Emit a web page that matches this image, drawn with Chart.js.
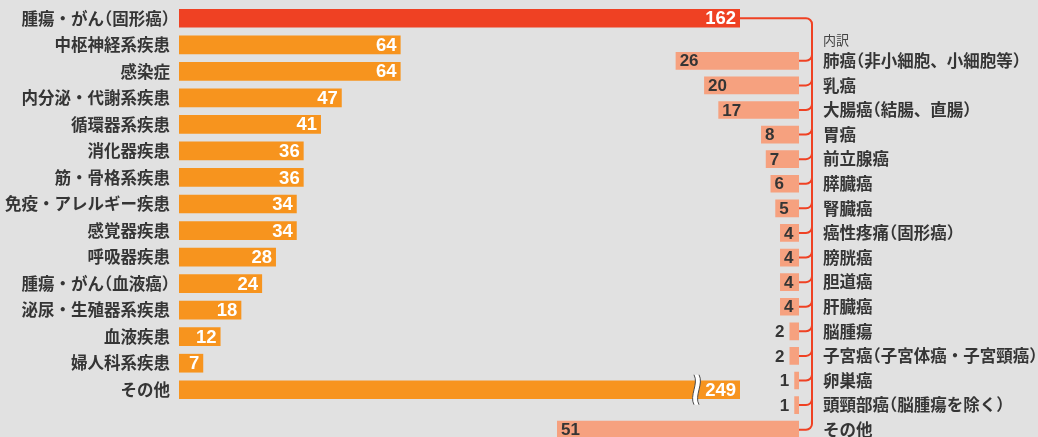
<!DOCTYPE html>
<html lang="ja">
<head>
<meta charset="utf-8">
<title>疾患領域別</title>
<script src="https://cdn.jsdelivr.net/npm/chart.js@4/dist/chart.umd.min.js"></script>
<style>
  html, body {
    margin: 0;
    width: 1038px;
    height: 437px;
    overflow: hidden;
    background: #e1e1e1;
  }
  .board {
    position: relative;
    width: 1038px;
    height: 437px;
  }
  .board canvas {
    position: absolute;
    left: 0;
    top: 0;
  }
</style>
</head>
<body>
<div class="board">
  <canvas id="areas" width="1038" height="437"></canvas>
  <canvas id="tumors" width="1038" height="460"></canvas>
</div>
<script>
const areaLabels = [
  '腫瘍・がん（固形癌）',
  '中枢神経系疾患',
  '感染症',
  '内分泌・代謝系疾患',
  '循環器系疾患',
  '消化器疾患',
  '筋・骨格系疾患',
  '免疫・アレルギー疾患',
  '感覚器疾患',
  '呼吸器疾患',
  '腫瘍・がん（血液癌）',
  '泌尿・生殖器系疾患',
  '血液疾患',
  '婦人科系疾患',
  'その他',
];
const areaValues = [162, 64, 64, 47, 41, 36, 36, 34, 34, 28, 24, 18, 12, 7, 249];
// the last bar is drawn with a break mark
const brokenIndex = 14;

const tumorLabels = [
  '肺癌（非小細胞、小細胞等）',
  '乳癌',
  '大腸癌（結腸、直腸）',
  '胃癌',
  '前立腺癌',
  '膵臓癌',
  '腎臓癌',
  '癌性疼痛（固形癌）',
  '膀胱癌',
  '胆道癌',
  '肝臓癌',
  '脳腫瘍',
  '子宮癌（子宮体癌・子宮頸癌）',
  '卵巣癌',
  '頭頸部癌（脳腫瘍を除く）',
  'その他',
];
const tumorValues = [26, 20, 17, 8, 7, 6, 5, 4, 4, 4, 4, 2, 2, 1, 1, 51];
const breakdownTitle = '内訳';

const RED = '#ef4123';
const ORANGE = '#f7941e';
const SALMON = '#f6a17f';
const TEXT = '#353535';
const JP_FONT = "'Noto Sans CJK JP', 'Noto Sans', sans-serif";
const NUM_FONT = "'Liberation Sans', Arial, sans-serif";
const LABEL_SIZE = 16.5;

const areaMax = Math.max(...areaValues.filter((v, i) => i !== brokenIndex));

// fixed-width label column, no extra room for half label heights
function fitColumn(width) {
  return (scale) => {
    scale.width = width;
    scale.paddingTop = 0;
    scale.paddingBottom = 0;
  };
}

// category text with half-width brackets (like palt)
function drawLabel(ctx, text, x, y, align) {
  const half = LABEL_SIZE / 2;
  const chars = [...text];
  const advance = (ch) => (ch === '（' || ch === '）' ? half : ctx.measureText(ch).width);
  const total = chars.reduce((sum, ch) => sum + advance(ch), 0);
  let cx = align === 'right' ? x - total : x;
  chars.forEach((ch) => {
    ctx.fillText(ch, ch === '（' ? cx - half : cx, y);
    cx += advance(ch);
  });
}

const categoryPlugin = {
  id: 'categoryText',
  afterDraw(chart, args, opts) {
    const { ctx, chartArea } = chart;
    const scale = chart.scales.y;
    ctx.save();
    ctx.font = `bold ${LABEL_SIZE}px ${JP_FONT}`;
    ctx.fillStyle = TEXT;
    ctx.textAlign = 'left';
    ctx.textBaseline = 'middle';
    chart.data.labels.forEach((label, i) => {
      const y = scale.getPixelForTick(i);
      if (opts.side === 'right') {
        drawLabel(ctx, label, chartArea.right + opts.gap, y, 'left');
      } else {
        drawLabel(ctx, label, chartArea.left - opts.gap, y, 'right');
      }
    });
    ctx.restore();
  },
};

function drawBreak(ctx, x, y) {
  const h = 15;
  const w = 5;
  const wave = (dx) => {
    ctx.moveTo(x + dx, y - h);
    ctx.bezierCurveTo(x + dx + 5, y - 6, x + dx - 5, y + 6, x + dx, y + h);
  };
  ctx.save();
  ctx.beginPath();
  wave(0);
  ctx.lineTo(x + w, y + h);
  ctx.bezierCurveTo(x + w - 5, y + 6, x + w + 5, y - 6, x + w, y - h);
  ctx.closePath();
  ctx.fillStyle = '#ffffff';
  ctx.fill();
  ctx.beginPath();
  wave(0);
  wave(w);
  ctx.strokeStyle = '#4a4a4a';
  ctx.lineWidth = 1;
  ctx.stroke();
  ctx.restore();
}

const areaValuePlugin = {
  id: 'areaValues',
  afterDatasetsDraw(chart) {
    const { ctx, chartArea } = chart;
    const bars = chart.getDatasetMeta(0).data;
    ctx.save();
    bars.forEach((bar, i) => {
      const end = Math.min(bar.x, chartArea.right);
      if (i === brokenIndex) drawBreak(ctx, end - 46, bar.y);
      ctx.font = `bold 18.5px ${NUM_FONT}`;
      ctx.fillStyle = '#ffffff';
      ctx.textAlign = 'right';
      ctx.textBaseline = 'middle';
      ctx.fillText(areaValues[i], end - 4, bar.y + 1);
    });
    ctx.restore();
  },
};

const areaChart = new Chart(document.getElementById('areas'), {
  type: 'bar',
  data: {
    labels: areaLabels,
    datasets: [
      {
        data: areaValues,
        backgroundColor: areaValues.map((v, i) => (i === 0 ? RED : ORANGE)),
        barPercentage: 1,
        categoryPercentage: 0.705,
      },
    ],
  },
  options: {
    indexAxis: 'y',
    responsive: false,
    animation: false,
    events: [],
    layout: { padding: { left: 0, top: 5, right: 298, bottom: 34 } },
    plugins: {
      legend: { display: false },
      tooltip: { enabled: false },
      categoryText: { side: 'left', gap: 9 },
    },
    scales: {
      x: { display: false, min: 0, max: areaMax },
      y: {
        grid: { display: false, drawTicks: false },
        border: { display: false },
        ticks: { display: false },
        afterFit: fitColumn(179),
      },
    },
  },
  plugins: [areaValuePlugin, categoryPlugin],
});

const tumorValuePlugin = {
  id: 'tumorValues',
  afterDatasetsDraw(chart) {
    const { ctx, chartArea } = chart;
    const bars = chart.getDatasetMeta(0).data;
    ctx.save();
    ctx.font = `bold 17px ${NUM_FONT}`;
    ctx.fillStyle = TEXT;
    ctx.textBaseline = 'middle';
    bars.forEach((bar, i) => {
      const text = String(tumorValues[i]);
      const width = ctx.measureText(text).width;
      const left = bar.x;
      if (chartArea.right - left >= width + 8) {
        ctx.textAlign = 'left';
        ctx.fillText(text, left + 4, bar.y + 1);
      } else {
        ctx.textAlign = 'right';
        ctx.fillText(text, left - 5, bar.y + 1);
      }
    });
    ctx.restore();
  },
};

// red bracket that ties the breakdown to the first bar on the left
const bracketPlugin = {
  id: 'bracket',
  afterDraw(chart) {
    const { ctx, chartArea } = chart;
    const bars = chart.getDatasetMeta(0).data;
    const head = areaChart.getDatasetMeta(0).data[0];
    const startX = Math.min(head.x, areaChart.chartArea.right);
    const lineX = chartArea.right + 13;
    const r = 6;
    const last = bars[bars.length - 1];

    ctx.save();
    ctx.strokeStyle = RED;
    ctx.lineWidth = 2;
    ctx.beginPath();
    ctx.moveTo(startX, head.y);
    ctx.lineTo(lineX - r, head.y);
    ctx.arcTo(lineX, head.y, lineX, head.y + r, r);
    ctx.lineTo(lineX, last.y - r);
    bars.forEach((bar) => {
      ctx.moveTo(chartArea.right, bar.y);
      ctx.lineTo(lineX - r, bar.y);
      ctx.arcTo(lineX, bar.y, lineX, bar.y - r, r);
    });
    ctx.stroke();

    ctx.font = `13px ${JP_FONT}`;
    ctx.fillStyle = '#444444';
    ctx.textAlign = 'left';
    ctx.textBaseline = 'middle';
    ctx.fillText(breakdownTitle, chartArea.right + 24, bars[0].y - 21);
    ctx.restore();
  },
};

new Chart(document.getElementById('tumors'), {
  type: 'bar',
  data: {
    labels: tumorLabels,
    datasets: [
      {
        data: tumorValues,
        backgroundColor: SALMON,
        barPercentage: 1,
        categoryPercentage: 0.72,
      },
    ],
  },
  options: {
    indexAxis: 'y',
    responsive: false,
    animation: false,
    events: [],
    layout: { padding: { left: 557, top: 48.5, right: 0, bottom: 18 } },
    plugins: {
      legend: { display: false },
      tooltip: { enabled: false },
      categoryText: { side: 'right', gap: 24 },
    },
    scales: {
      x: { display: false, reverse: true, min: 0, max: Math.max(...tumorValues) },
      y: {
        position: 'right',
        grid: { display: false, drawTicks: false },
        border: { display: false },
        ticks: { display: false },
        afterFit: fitColumn(239),
      },
    },
  },
  plugins: [tumorValuePlugin, bracketPlugin, categoryPlugin],
});
</script>
</body>
</html>
